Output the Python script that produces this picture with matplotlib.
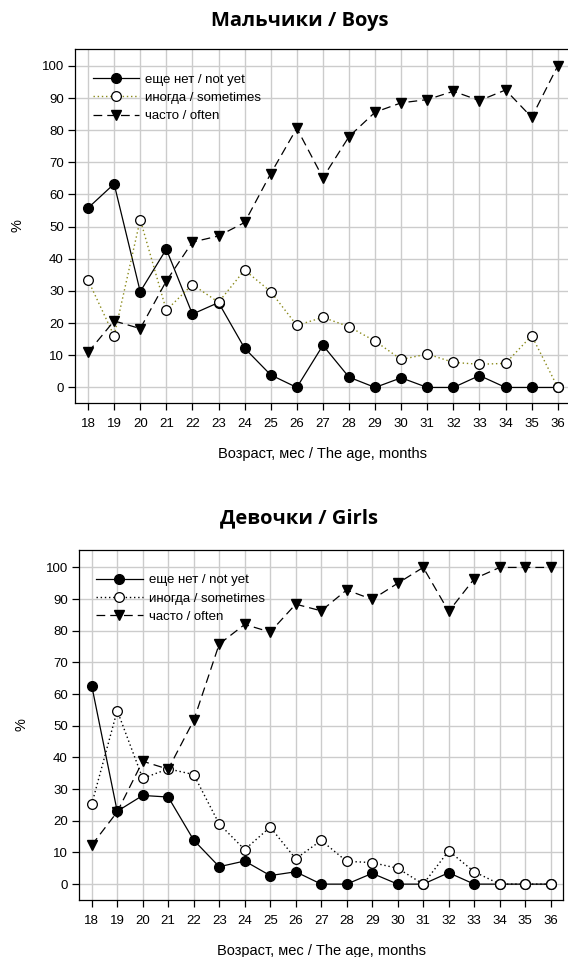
import matplotlib
matplotlib.use("Agg")
import matplotlib.pyplot as plt

plt.rcParams['font.family'] = ['Liberation Sans', 'DejaVu Sans']

months = list(range(18, 37))

# boys, %
boys_not_yet = [55.8, 63.3, 29.8, 43.0, 22.8, 26.4, 12.2, 3.9, 0, 13.1, 3.2, 0, 3.0, 0, 0, 3.7, 0, 0, 0]
boys_sometimes = [33.4, 16.0, 52.2, 24.0, 32.0, 26.5, 36.5, 29.8, 19.3, 21.8, 18.9, 14.4, 8.7, 10.4, 7.8, 7.2, 7.5, 16.1, 0]
boys_often = [10.9, 20.7, 18.3, 33.1, 45.2, 47.1, 51.3, 66.5, 80.6, 65.2, 78.0, 85.6, 88.5, 89.5, 92.1, 89.2, 92.5, 84.0, 100]

# girls, %
girls_not_yet = [62.7, 23.0, 28.0, 27.5, 13.9, 5.5, 7.3, 2.7, 3.9, 0, 0, 3.4, 0, 0, 3.6, 0, 0, 0, 0]
girls_sometimes = [25.2, 54.8, 33.4, 36.4, 34.6, 19.0, 10.9, 18.0, 8.0, 13.8, 7.2, 6.8, 5.0, 0, 10.5, 3.9, 0, 0, 0]
girls_often = [12.3, 22.8, 38.8, 36.3, 51.7, 75.8, 82.0, 79.6, 88.4, 86.3, 92.9, 89.9, 95.0, 100, 86.1, 96.4, 100, 100, 100]

labels = ["еще нет / not yet", "иногда / sometimes", "часто / often"]
xlabel = "Возраст, мес / The age, months"

fig = plt.figure(figsize=(5.68, 9.57), dpi=100)


def panel(rect, title, title_y, nyet, some, often, dot_color, ylim, show_right=True):
    ax = fig.add_axes(rect)
    ax.plot(months, nyet, color="black", lw=0.9, marker="o", ms=7,
            mfc="black", mec="black", label=labels[0], zorder=3)
    ax.plot(months, some, color=dot_color, lw=1.0, ls=(0, (1, 2)), marker="o", ms=7,
            mfc="white", mec="black", mew=0.9, label=labels[1], zorder=4)
    ax.plot(months, often, color="black", lw=0.9, ls=(0, (7, 4)), marker="v", ms=7.5,
            mfc="black", mec="black", label=labels[2], zorder=5)

    ax.set_xlim(17.5, 36.5)
    ax.set_ylim(*ylim)
    ax.set_xticks(months)
    ax.set_yticks(range(0, 101, 10))
    ax.grid(True, color="#cccccc", lw=1.0, zorder=0)
    ax.set_axisbelow(True)
    ax.tick_params(direction="out", length=5, width=0.9, labelsize=9.5, pad=3)
    ax.tick_params(axis="x", pad=6)
    for s in ax.spines.values():
        s.set_linewidth(0.9)
    ax.spines["right"].set_visible(show_right)
    ax.set_ylabel("%", fontsize=10.5, labelpad=12)
    ax.set_xlabel(xlabel, fontsize=10.5, labelpad=12)
    fig.text(0.527, title_y, title, fontsize=14.5, fontweight="bold", family="Open Sans",
             ha="center", va="center")
    ax.legend(loc="upper left", frameon=False, fontsize=9.5, handlelength=3.5,
              handletextpad=0.5, labelspacing=0.45, borderaxespad=0.0,
              bbox_to_anchor=(0.025, 0.945))
    return ax


panel([0.132, 0.579, 0.873, 0.370], "Мальчики / Boys", 1 - 21 / 957,
      boys_not_yet, boys_sometimes, boys_often, "#8a8a1a", (-4.8, 105.3), show_right=False)
panel([0.139, 0.0596, 0.853, 0.366], "Девочки / Girls", 1 - 518 / 957,
      girls_not_yet, girls_sometimes, girls_often, "black", (-5.0, 105.6))

fig.savefig("out.png", dpi=100)
